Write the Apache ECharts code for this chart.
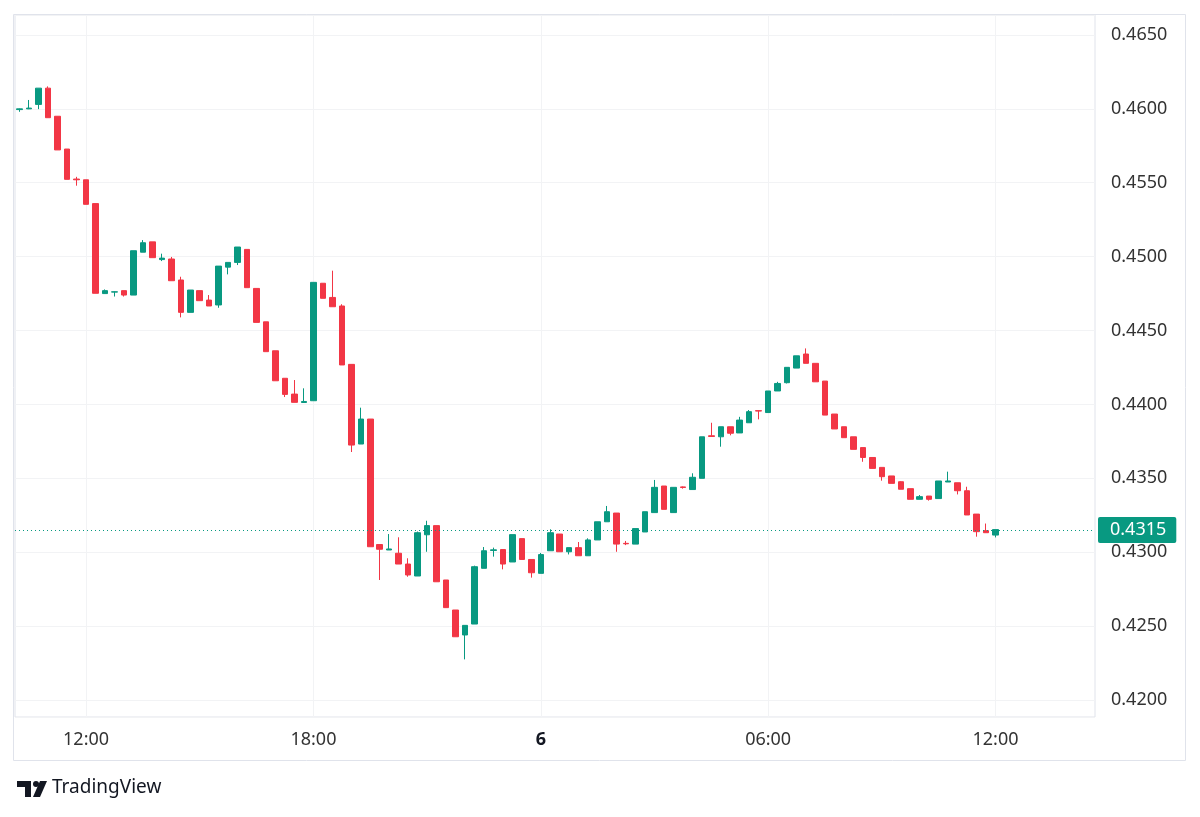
<!DOCTYPE html>
<html>
<head>
<meta charset="utf-8">
<script src="https://cdn.jsdelivr.net/npm/echarts@6/dist/echarts.min.js"></script>
<style>
html, body { margin: 0; padding: 0; background: #fff; }
#main { width: 1200px; height: 817px; }
</style>
</head>
<body>
<div id="main"></div>
<script>
// 15 minute candles, first slot 5th 10:15, axis runs a bit past the last candle
var startDay = 5;
var startMinute = 10 * 60 + 15;
var slotCount = 114;

var opens = [
    0.45995, 0.46000, 0.46030, 0.46140, 0.45950, 0.45728, 0.45525, 0.45520, 0.45359, 0.44750,
    0.44760, 0.44770, 0.44740, 0.45030, 0.45100, 0.44980, 0.44984, 0.44842, 0.44623, 0.44770,
    0.44706, 0.44673, 0.44929, 0.44961, 0.45049, 0.44785, 0.44559, 0.44363, 0.44177, 0.44070,
    0.44013, 0.44025, 0.44820, 0.44724, 0.44666, 0.44271, 0.43732, 0.43901, 0.43052, 0.43015,
    0.42993, 0.42920, 0.42839, 0.43118, 0.43180, 0.42812, 0.42609, 0.42440, 0.42514, 0.42891,
    0.43012, 0.43018, 0.42934, 0.43092, 0.42951, 0.42857, 0.43010, 0.43123, 0.43003, 0.43031,
    0.42976, 0.43083, 0.43206, 0.43265, 0.43060, 0.43055, 0.43137, 0.43268, 0.43448, 0.43268,
    0.43442, 0.43424, 0.43500, 0.43788, 0.43781, 0.43849, 0.43807, 0.43876, 0.43958, 0.43945,
    0.44091, 0.44147, 0.44246, 0.44341, 0.44278, 0.44158, 0.43935, 0.43849, 0.43781, 0.43708,
    0.43641, 0.43574, 0.43516, 0.43477, 0.43430, 0.43358, 0.43380, 0.43363, 0.43475, 0.43470,
    0.43416, 0.43258, 0.43146, 0.43116
];
var closes = [
    0.46000, 0.46005, 0.46140, 0.45940, 0.45722, 0.45523, 0.45520, 0.45354, 0.44752, 0.44770,
    0.44762, 0.44740, 0.45040, 0.45094, 0.44993, 0.44990, 0.44837, 0.44623, 0.44774, 0.44702,
    0.44666, 0.44936, 0.44961, 0.45065, 0.44790, 0.44555, 0.44357, 0.44160, 0.44068, 0.44014,
    0.44020, 0.44826, 0.44718, 0.44661, 0.44267, 0.43725, 0.43901, 0.43037, 0.43020, 0.43022,
    0.42920, 0.42846, 0.43132, 0.43180, 0.42800, 0.42625, 0.42428, 0.42505, 0.42902, 0.43010,
    0.43016, 0.42920, 0.43119, 0.42951, 0.42861, 0.42984, 0.43132, 0.43003, 0.43031, 0.42976,
    0.43083, 0.43206, 0.43274, 0.43055, 0.43057, 0.43160, 0.43274, 0.43439, 0.43290, 0.43439,
    0.43438, 0.43507, 0.43781, 0.43783, 0.43849, 0.43805, 0.43894, 0.43951, 0.43955, 0.44091,
    0.44142, 0.44251, 0.44329, 0.44278, 0.44153, 0.43928, 0.43834, 0.43775, 0.43696, 0.43641,
    0.43567, 0.43511, 0.43466, 0.43426, 0.43358, 0.43376, 0.43358, 0.43482, 0.43482, 0.43416,
    0.43252, 0.43139, 0.43132, 0.43153
];
var lows = [
    0.45980, 0.45998, 0.45998, 0.45940, 0.45722, 0.45523, 0.45480, 0.45354, 0.44752, 0.44748,
    0.44730, 0.44730, 0.44740, 0.45030, 0.44993, 0.44970, 0.44837, 0.44589, 0.44623, 0.44702,
    0.44666, 0.44654, 0.44880, 0.44943, 0.44790, 0.44555, 0.44357, 0.44160, 0.44050, 0.44014,
    0.44010, 0.44025, 0.44718, 0.44661, 0.44267, 0.43678, 0.43732, 0.43037, 0.42812, 0.43015,
    0.42920, 0.42834, 0.42839, 0.43003, 0.42800, 0.42625, 0.42428, 0.42275, 0.42514, 0.42891,
    0.42970, 0.42884, 0.42934, 0.42951, 0.42828, 0.42857, 0.43010, 0.43003, 0.42985, 0.42976,
    0.42976, 0.43083, 0.43206, 0.43003, 0.43048, 0.43055, 0.43137, 0.43268, 0.43290, 0.43268,
    0.43430, 0.43424, 0.43500, 0.43783, 0.43714, 0.43791, 0.43807, 0.43876, 0.43899, 0.43945,
    0.44091, 0.44142, 0.44246, 0.44278, 0.44153, 0.43928, 0.43834, 0.43775, 0.43696, 0.43612,
    0.43567, 0.43484, 0.43466, 0.43426, 0.43358, 0.43358, 0.43349, 0.43363, 0.43475, 0.43391,
    0.43252, 0.43105, 0.43132, 0.43100
];
var highs = [
    0.46002, 0.46060, 0.46140, 0.46152, 0.45950, 0.45728, 0.45540, 0.45520, 0.45359, 0.44778,
    0.44765, 0.44770, 0.45040, 0.45112, 0.45100, 0.45020, 0.44998, 0.44864, 0.44774, 0.44770,
    0.44740, 0.44936, 0.44961, 0.45065, 0.45049, 0.44785, 0.44559, 0.44363, 0.44177, 0.44165,
    0.44109, 0.44826, 0.44820, 0.44905, 0.44678, 0.44271, 0.43978, 0.43901, 0.43052, 0.43123,
    0.43101, 0.42959, 0.43140, 0.43213, 0.43180, 0.42812, 0.42609, 0.42505, 0.42909, 0.43035,
    0.43031, 0.43018, 0.43119, 0.43092, 0.42951, 0.42995, 0.43155, 0.43123, 0.43031, 0.43069,
    0.43094, 0.43206, 0.43313, 0.43265, 0.43076, 0.43160, 0.43274, 0.43489, 0.43448, 0.43439,
    0.43445, 0.43534, 0.43781, 0.43876, 0.43849, 0.43849, 0.43916, 0.43962, 0.43960, 0.44091,
    0.44153, 0.44251, 0.44329, 0.44379, 0.44278, 0.44158, 0.43935, 0.43849, 0.43781, 0.43708,
    0.43641, 0.43574, 0.43516, 0.43480, 0.43430, 0.43387, 0.43380, 0.43482, 0.43545, 0.43470,
    0.43443, 0.43258, 0.43194, 0.43153
];
var lastPrice = 0.4315;

var upColor = '#089981';
var downColor = '#F23645';
var gridColor = '#f2f3f5';
var borderColor = '#e0e3eb';
var textColor = '#333';
var fontName = 'Noto Sans';

function pad(n) { return (n < 10 ? '0' : '') + n; }

var categories = [];
for (var s = 0; s < slotCount; s++) {
    var m = startMinute + s * 15;
    var day = startDay + Math.floor(m / 1440);
    m = m % 1440;
    categories.push(day + ' ' + pad(Math.floor(m / 60)) + ':' + pad(m % 60));
}

var candles = [];
for (var i = 0; i < opens.length; i++) {
    candles.push([opens[i], closes[i], lows[i], highs[i]]);
}

function isMajor(index, value) {
    var t = (value || categories[index]).split(' ')[1];
    var h = parseInt(t.split(':')[0], 10);
    return t.split(':')[1] === '00' && h % 6 === 0;
}

var chart = echarts.init(document.getElementById('main'));

var option = {
    animation: false,
    backgroundColor: '#fff',
    grid: {
        left: 15,
        right: 105,
        top: 15,
        bottom: 100,
        show: true,
        borderColor: borderColor,
        borderWidth: 1
    },
    xAxis: {
        type: 'category',
        data: categories,
        boundaryGap: true,
        axisLine: { show: false },
        axisTick: { show: false },
        axisLabel: {
            interval: isMajor,
            margin: 14,
            fontSize: 18,
            fontFamily: fontName,
            color: textColor,
            formatter: function (value) {
                var parts = value.split(' ');
                if (parts[1] === '00:00') {
                    return '{day|' + parts[0] + '}';
                }
                return parts[1];
            },
            rich: {
                day: { fontWeight: 'bold', fontSize: 18, fontFamily: fontName, color: '#131722' }
            }
        },
        splitLine: {
            show: true,
            interval: isMajor,
            alignWithLabel: true,
            lineStyle: { color: gridColor }
        }
    },
    yAxis: {
        type: 'value',
        position: 'right',
        scale: true,
        min: 0.41885,
        max: 0.46635,
        minInterval: 0.005,
        maxInterval: 0.005,
        axisLine: { show: false },
        axisTick: { show: false },
        axisLabel: {
            showMinLabel: false,
            showMaxLabel: false,
            margin: 16,
            fontSize: 18,
            fontFamily: fontName,
            color: textColor,
            formatter: function (v) {
                return v.toFixed(4);
            }
        },
        splitLine: { lineStyle: { color: gridColor } }
    },
    series: [{
        type: 'candlestick',
        data: candles,
        barWidth: 6,
        itemStyle: {
            color: upColor,
            color0: downColor,
            borderColor: upColor,
            borderColor0: downColor,
            borderWidth: 1
        },
        markLine: {
            silent: true,
            symbol: 'none',
            precision: 4,
            data: [{ yAxis: lastPrice }],
            lineStyle: { color: upColor, type: [1, 3], width: 1 },
            label: {
                position: 'end',
                distance: 3,
                formatter: lastPrice.toFixed(4),
                backgroundColor: upColor,
                color: '#fff',
                fontSize: 18,
                fontFamily: fontName,
                lineHeight: 18,
                padding: [4, 10, 4, 12],
                borderRadius: 2
            }
        }
    }],
    graphic: [
        {
            type: 'rect',
            shape: { x: 13.5, y: 14.5, width: 1172, height: 746 },
            style: { fill: 'none', stroke: borderColor, lineWidth: 1 },
            silent: true
        },
        {
            type: 'polygon',
            shape: { points: [[17, 781], [31, 781], [31, 797], [25, 797], [25, 787], [17, 787]] },
            style: { fill: '#131722' }
        },
        {
            type: 'circle',
            shape: { cx: 36, cy: 784, r: 3 },
            style: { fill: '#131722' }
        },
        {
            type: 'polygon',
            shape: { points: [[40, 781], [47, 781], [40, 797], [33, 797]] },
            style: { fill: '#131722' }
        },
        {
            type: 'text',
            left: 52,
            top: 778,
            style: {
                text: 'TradingView',
                fontSize: 19,
                fontFamily: fontName,
                fill: '#131722'
            }
        }
    ]
};

chart.setOption(option);
</script>
</body>
</html>
